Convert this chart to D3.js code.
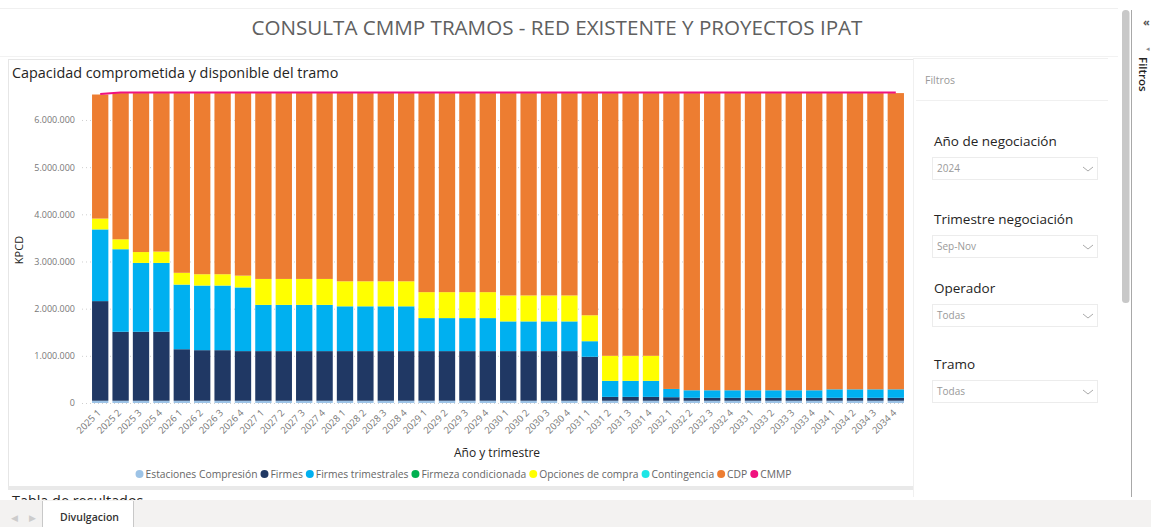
<!DOCTYPE html>
<html>
<head>
<meta charset="utf-8">
<script src="https://cdn.jsdelivr.net/npm/d3@7"></script>
<style>
  body { margin: 0; background: #fff; font-family: "Open Sans", sans-serif; }
  svg text { font-family: "Open Sans", sans-serif; }
</style>
</head>
<body>
<div id="page"></div>
<script>
// categories
const periods = [
  "2025 1","2025 2","2025 3","2025 4","2026 1","2026 2","2026 3","2026 4",
  "2027 1","2027 2","2027 3","2027 4","2028 1","2028 2","2028 3","2028 4",
  "2029 1","2029 2","2029 3","2029 4","2030 1","2030 2","2030 3","2030 4",
  "2031 1","2031 2","2031 3","2031 4","2032 1","2032 2","2032 3","2032 4",
  "2033 1","2033 2","2033 3","2033 4","2034 1","2034 2","2034 3","2034 4"
];

// series values (KPCD)
const estaciones = [
  48000,48000,48000,48000,48000,48000,48000,48000,48000,48000,48000,48000,48000,48000,48000,48000,
  48000,48000,48000,48000,48000,48000,48000,48000,48000,48000,48000,48000,48000,48000,48000,48000,
  48000,48000,48000,48000,48000,48000,48000,48000
];
const firmes = [
  2112000,1462000,1462000,1462000,1092000,1072000,1072000,1052000,
  1052000,1052000,1052000,1052000,1052000,1052000,1052000,1052000,
  1052000,1052000,1052000,1052000,1052000,1052000,1052000,1052000,
  932000,82000,82000,82000,75000,62000,62000,62000,
  62000,62000,62000,62000,62000,62000,62000,62000
];
const firmesTrim = [
  1520000,1750000,1460000,1460000,1370000,1370000,1370000,1350000,
  980000,980000,980000,980000,950000,950000,950000,950000,
  700000,700000,700000,700000,630000,630000,630000,630000,
  330000,340000,340000,340000,175000,160000,160000,160000,
  160000,160000,160000,160000,180000,180000,180000,180000
];
const firmeza = [
  0,0,0,0,0,0,0,0,0,0,0,0,0,0,0,0,0,0,0,0,
  0,0,0,0,0,0,0,0,0,0,0,0,0,0,0,0,0,0,0,0
];
const opciones = [
  230000,210000,230000,240000,250000,240000,240000,250000,
  550000,550000,550000,550000,530000,530000,530000,530000,
  550000,550000,550000,550000,550000,550000,550000,550000,
  550000,530000,530000,530000,0,0,0,0,
  0,0,0,0,0,0,0,0
];
const contingencia = [
  0,0,0,0,0,0,0,0,0,0,0,0,0,0,0,0,0,0,0,0,
  0,0,0,0,0,0,0,0,0,0,0,0,0,0,0,0,0,0,0,0
];
const cdp = [
  2630000,3100000,3370000,3360000,3810000,3840000,3840000,3870000,
  3940000,3940000,3940000,3940000,3990000,3990000,3990000,3990000,
  4220000,4220000,4220000,4220000,4290000,4290000,4290000,4290000,
  4710000,5570000,5570000,5570000,6272000,6300000,6300000,6300000,
  6300000,6300000,6300000,6300000,6280000,6280000,6280000,6280000
];
const cmmp = [
  6550000,6580000,6580000,6580000,6580000,6580000,6580000,6580000,
  6580000,6580000,6580000,6580000,6580000,6580000,6580000,6580000,
  6580000,6580000,6580000,6580000,6580000,6580000,6580000,6580000,
  6580000,6580000,6580000,6580000,6580000,6580000,6580000,6580000,
  6580000,6580000,6580000,6580000,6580000,6580000,6580000,6580000
];
const yTicks = [0, 1000000, 2000000, 3000000, 4000000, 5000000, 6000000];

const seriesNames = ["Estaciones Compresión","Firmes","Firmes trimestrales","Firmeza condicionada",
  "Opciones de compra","Contingencia","CDP"];
const seriesValues = [estaciones, firmes, firmesTrim, firmeza, opciones, contingencia, cdp];
const colors = ["#9DC3E6","#203864","#00B0F0","#00B050","#FFFF00","#1CE6E6","#ED7D31"];
const lineName = "CMMP", lineColor = "#F0127F";

const W = 1151, H = 527;
const svg = d3.select("#page").append("svg").attr("width", W).attr("height", H);

// page frame
svg.append("line").attr("x1", 0).attr("x2", 1118).attr("y1", 8.5).attr("y2", 8.5).attr("stroke", "#f0f0f0");
svg.append("line").attr("x1", 0).attr("x2", 1118).attr("y1", 56.5).attr("y2", 56.5).attr("stroke", "#f2f2f2");
svg.append("text").attr("x", 557).attr("y", 35).attr("text-anchor", "middle")
  .attr("font-size", "20.6px").attr("fill", "#606060")
  .text("CONSULTA CMMP TRAMOS - RED EXISTENTE Y PROYECTOS IPAT");

// chart card
svg.append("rect").attr("x", 8.5).attr("y", 59.5).attr("width", 905).attr("height", 427)
  .attr("fill", "#fff").attr("stroke", "#e6e6e6");
svg.append("rect").attr("x", 8).attr("y", 486).attr("width", 906).attr("height", 4).attr("fill", "#e9e9e9");
svg.append("text").attr("x", 12).attr("y", 78).attr("font-size", "14.4px").attr("fill", "#252423")
  .text("Capacidad comprometida y disponible del tramo");
svg.append("text").attr("x", 12).attr("y", 506).attr("font-size", "14.4px").attr("fill", "#252423")
  .text("Tabla de resultados");

// scales
const x = d3.scaleBand().domain(periods).range([90, 906]).paddingInner(0.2).paddingOuter(0.1);
const y = d3.scaleLinear().domain([0, 6700000]).range([403, 403 - 6.7 * 47.17]);
const loc = d3.formatLocale({ decimal: ",", thousands: ".", grouping: [3], currency: ["$", ""] });
const fmt = loc.format(",d");

// grid + y axis
const yAxis = svg.append("g").attr("transform", "translate(80,0)")
  .call(d3.axisLeft(y).tickValues(yTicks).tickFormat(fmt).tickSize(0).tickPadding(5));
yAxis.select(".domain").remove();
yAxis.selectAll("text").attr("font-size", "9px").attr("fill", "#777");
svg.append("g").selectAll("line").data(yTicks).join("line")
  .attr("x1", 82).attr("x2", 906).attr("y1", d => y(d) + 0.5).attr("y2", d => y(d) + 0.5)
  .attr("stroke", "#cfcfcf").attr("stroke-dasharray", "1,3");

// stacked bars
const rows = periods.map((p, i) => {
  const r = { period: p };
  seriesNames.forEach((n, k) => { r[n] = seriesValues[k][i]; });
  return r;
});
const stacked = d3.stack().keys(seriesNames)(rows);
svg.append("g").selectAll("g").data(stacked).join("g")
  .attr("fill", (d, k) => colors[k])
  .selectAll("rect").data(d => d).join("rect")
    .attr("x", d => x(d.data.period))
    .attr("width", x.bandwidth())
    .attr("y", d => y(d[1]))
    .attr("height", d => y(d[0]) - y(d[1]));

// CMMP line
svg.append("path").datum(cmmp)
  .attr("fill", "none").attr("stroke", lineColor).attr("stroke-width", 2)
  .attr("d", d3.line().x((d, i) => x(periods[i]) + x.bandwidth() / 2).y(d => y(d)));

// x axis
const xAxis = svg.append("g").attr("transform", "translate(0,405)")
  .call(d3.axisBottom(x).tickSize(0).tickPadding(0));
xAxis.select(".domain").remove();
xAxis.selectAll("text").attr("font-size", "9.5px").attr("fill", "#777")
  .attr("text-anchor", "end").attr("x", 0).attr("y", 0).attr("dy", "0.35em")
  .attr("transform", "translate(-1,6) rotate(-45)");

svg.append("text").attr("x", 497).attr("y", 457).attr("text-anchor", "middle")
  .attr("font-size", "12px").attr("fill", "#252423").text("Año y trimestre");
svg.append("text").attr("transform", "translate(23,250) rotate(-90)").attr("text-anchor", "middle")
  .attr("font-size", "11px").attr("fill", "#252423").text("KPCD");

// legend
const legendItems = seriesNames.map((n, k) => ({ name: n, color: colors[k] }))
  .concat([{ name: lineName, color: lineColor }]);
const lg = svg.append("g");
let lx = 0;
legendItems.forEach(it => {
  const g = lg.append("g").attr("transform", `translate(${lx},0)`);
  g.append("circle").attr("cx", 4).attr("cy", 0).attr("r", 4).attr("fill", it.color);
  const t = g.append("text").attr("x", 10).attr("y", 3.5).attr("font-size", "10.3px")
    .attr("fill", "#666").text(it.name);
  lx += 10 + t.node().getComputedTextLength() + 3;
});
lg.attr("transform", `translate(${465 - lx / 2},474)`);

// filter panel
svg.append("line").attr("x1", 913.5).attr("x2", 913.5).attr("y1", 58).attr("y2", 497).attr("stroke", "#f0f0f0");
svg.append("line").attr("x1", 913).attr("x2", 1108).attr("y1", 58.5).attr("y2", 58.5).attr("stroke", "#f0f0f0");
svg.append("line").attr("x1", 916).attr("x2", 1108).attr("y1", 100.5).attr("y2", 100.5).attr("stroke", "#f0f0f0");
svg.append("text").attr("x", 925).attr("y", 84).attr("font-size", "10.5px").attr("fill", "#999").text("Filtros");

const filterLabels = ["Año de negociación", "Trimestre negociación", "Operador", "Tramo"];
const filterValues = ["2024", "Sep-Nov", "Todas", "Todas"];
const filterTops = [130, 208, 277, 353];
filterLabels.forEach((lab, i) => {
  const t0 = filterTops[i];
  svg.append("text").attr("x", 934).attr("y", t0 + 16).attr("font-size", "13.5px")
    .attr("fill", "#252423").text(lab);
  svg.append("rect").attr("x", 932.5).attr("y", t0 + 27.5).attr("width", 165).attr("height", 22)
    .attr("fill", "#fff").attr("stroke", "#ececec");
  svg.append("text").attr("x", 937).attr("y", t0 + 42).attr("font-size", "10px")
    .attr("fill", "#999").text(filterValues[i]);
  svg.append("path").attr("d", `M${1083},${t0 + 37} l5,4 l5,-4`).attr("fill", "none")
    .attr("stroke", "#aaa").attr("stroke-width", 1);
});

// scrollbar + side pane
svg.append("rect").attr("x", 1122).attr("y", 10).attr("width", 7.5).attr("height", 293)
  .attr("rx", 3.5).attr("fill", "#c8c8c8");
svg.append("line").attr("x1", 1131.5).attr("x2", 1131.5).attr("y1", 10).attr("y2", 497)
  .attr("stroke", "#a8a8a8");
svg.append("text").attr("x", 1143).attr("y", 26).attr("font-size", "11px").attr("fill", "#555")
  .attr("font-weight", "bold").text("«");
svg.append("text").attr("x", 1146).attr("y", 51).attr("font-size", "7px").attr("fill", "#888").text("◂");
svg.append("text").attr("transform", "translate(1139,57) rotate(90)").attr("font-size", "11.5px")
  .attr("fill", "#252423").attr("font-weight", "600").text("Filtros");

// bottom tab bar
svg.append("rect").attr("x", 0).attr("y", 500).attr("width", W).attr("height", 27).attr("fill", "#f3f2f1");
svg.append("rect").attr("x", 42).attr("y", 501).attr("width", 91).attr("height", 26).attr("fill", "#fff");
svg.append("line").attr("x1", 42.5).attr("x2", 42.5).attr("y1", 501).attr("y2", 527).attr("stroke", "#c8c8c8");
svg.append("line").attr("x1", 133.5).attr("x2", 133.5).attr("y1", 501).attr("y2", 527).attr("stroke", "#c8c8c8");
svg.append("text").attr("x", 60).attr("y", 521).attr("font-size", "10.5px").attr("fill", "#333")
  .attr("font-weight", "600").text("Divulgacion");
svg.append("text").attr("x", 11).attr("y", 521).attr("font-size", "9px").attr("fill", "#ccc").text("◀");
svg.append("text").attr("x", 29).attr("y", 521).attr("font-size", "9px").attr("fill", "#ccc").text("▶");
</script>
</body>
</html>
